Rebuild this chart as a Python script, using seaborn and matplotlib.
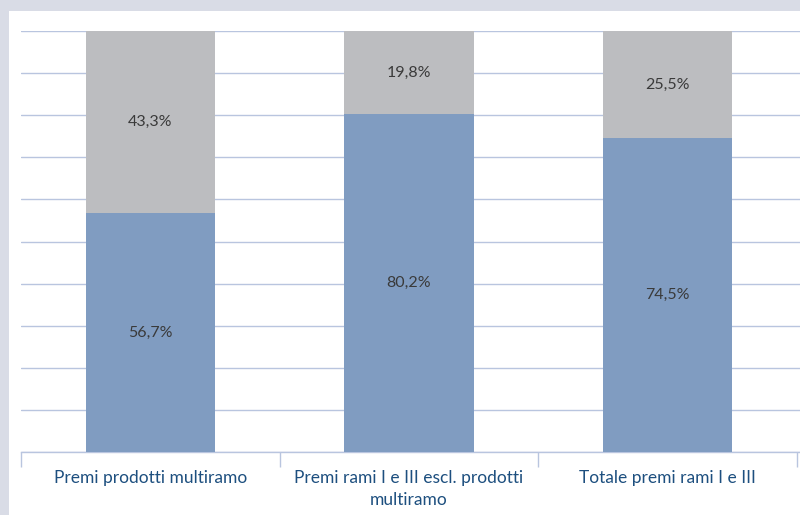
import matplotlib
matplotlib.use("Agg")
import matplotlib.pyplot as plt
from matplotlib.patches import Rectangle
import seaborn as sns
import pandas as pd

categories = ["Premi prodotti multiramo",
              "Premi rami I e III escl. prodotti\nmultiramo",
              "Totale premi rami I e III"]
blue_share = [56.7, 80.2, 74.5]
gray_share = [43.3, 19.8, 25.5]

BLUE = "#809cc1"
GRAY = "#bcbdc0"
GRID = "#b9c5df"
TEXT_BLUE = "#1d4f7f"

sns.set_theme(style="white")
plt.rcParams["font.family"] = ["Lato", "DejaVu Sans"]

df = pd.DataFrame({"cat": categories, "blue": blue_share, "gray": gray_share})
df["total"] = df["blue"] + df["gray"]

fig = plt.figure(figsize=(8, 5.15), dpi=100, facecolor="#d9dce6")
fig.patches.append(Rectangle((9 / 800, 0), 1, (515 - 11) / 515,
                             transform=fig.transFigure, facecolor="white",
                             edgecolor="none", zorder=-5))
ax = fig.add_axes([21 / 800, (515 - 452) / 515, 779 / 800, 421 / 515])
ax.set_zorder(1)
ax.set_facecolor("none")

# stacked bars: full height in gray, blue share on top of it
sns.barplot(data=df, x="cat", y="total", color=GRAY, width=0.5,
            saturation=1, linewidth=0, ax=ax, zorder=3)
sns.barplot(data=df, x="cat", y="blue", color=BLUE, width=0.5,
            saturation=1, linewidth=0, ax=ax, zorder=4)

for i, (b, g) in enumerate(zip(blue_share, gray_share)):
    ax.text(i, b / 2, f"{b:.1f}%".replace(".", ","), ha="center", va="center",
            fontsize=11.5, color="#3a3a3a", zorder=5)
    ax.text(i, b + g / 2, f"{g:.1f}%".replace(".", ","), ha="center",
            va="center", fontsize=11.5, color="#3a3a3a", zorder=5)

ax.set_ylim(0, 100)
ax.set_xlim(-0.5, 2.5 + 3 / 776 * 3)
ax.set_yticks(range(0, 101, 10))
ax.set_yticklabels([])
ax.tick_params(axis="y", length=0)
ax.yaxis.grid(True, color=GRID, linewidth=1)
ax.set_axisbelow(True)

for side in ("top", "right", "left"):
    ax.spines[side].set_visible(False)
ax.spines["bottom"].set_color(GRID)
ax.spines["bottom"].set_linewidth(1)

ax.set_xticks([0, 1, 2])
ax.set_xticklabels(categories, color=TEXT_BLUE, fontsize=12.5,
                   linespacing=1.45)
ax.tick_params(axis="x", length=0, pad=13)
ax.set_xticks([-0.5, 0.5, 1.5, 2.5], minor=True)
ax.tick_params(axis="x", which="minor", length=11, width=1, color=GRID,
               direction="out", bottom=True)
ax.set_xlabel("")
ax.set_ylabel("")

fig.savefig("out.png", dpi=100, facecolor=fig.get_facecolor())
